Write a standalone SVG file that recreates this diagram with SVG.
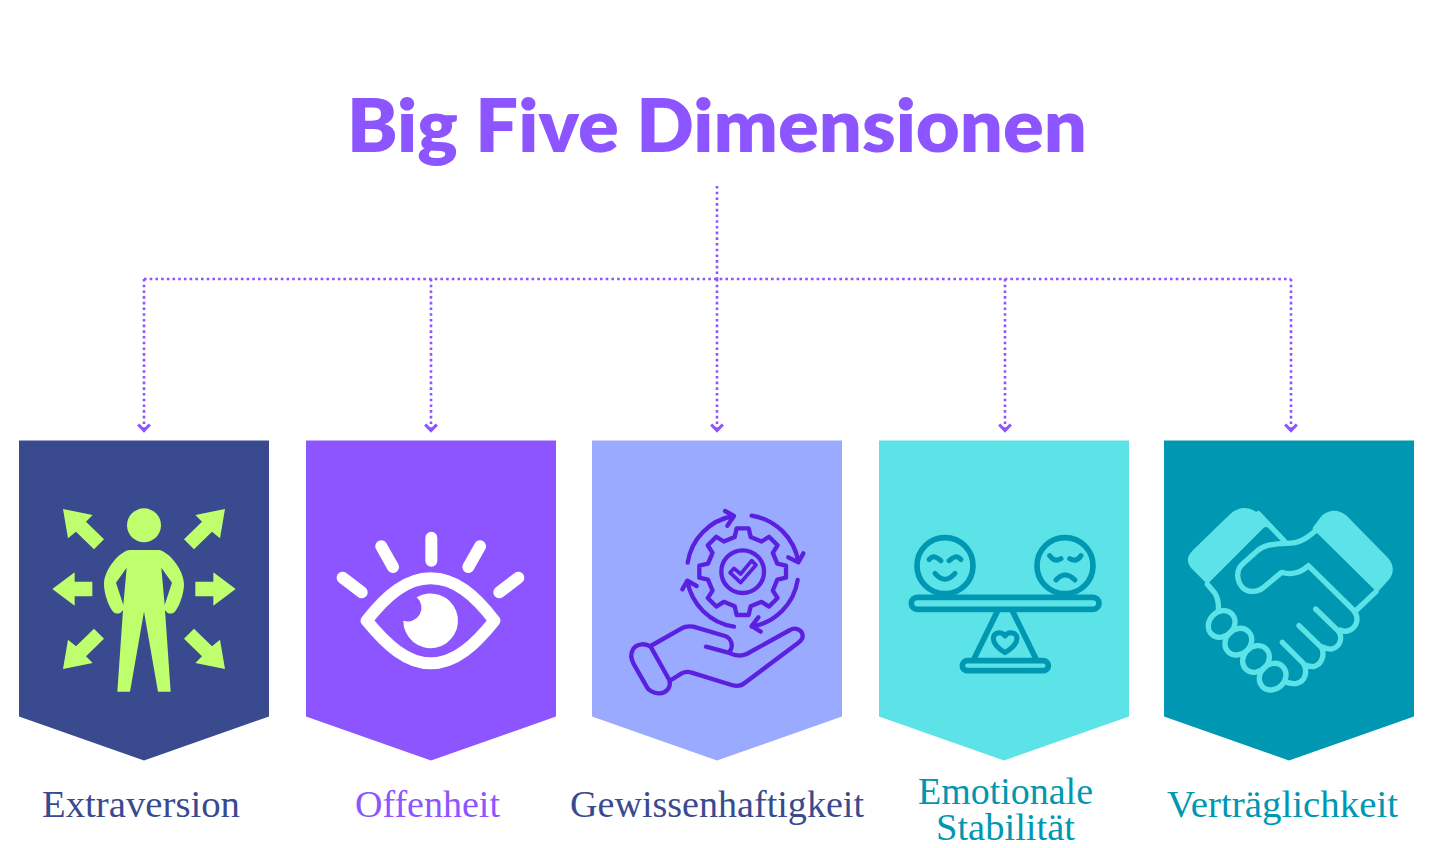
<svg xmlns="http://www.w3.org/2000/svg" width="1440" height="848" viewBox="0 0 1440 848">
<style>
.lbl{font-family:"Liberation Serif","DejaVu Serif",serif;font-size:38px}
.ttl{font-family:"Lato","Noto Sans",sans-serif;font-size:74px;font-weight:800;fill:#8c55ff}
.conn{fill:none;stroke:#8c55ff;stroke-width:2.6;stroke-dasharray:2.6 3.1}
.ln{fill:none;stroke-linecap:round;stroke-linejoin:round}
</style>
<defs>
<marker id="chev" markerUnits="userSpaceOnUse" markerWidth="16" markerHeight="16" viewBox="0 0 16 16" refX="8" refY="8" orient="auto" overflow="visible">
<path d="M2.5 2.2L8.5 8L2.5 13.8" fill="none" stroke="#8c55ff" stroke-width="3.2"/>
</marker>
<path id="shield" d="M0 0H250V276L125 320L0 276Z"/>
</defs>
<rect width="1440" height="848" fill="#fff"/>
<text class="ttl" x="717" y="152" text-anchor="middle" textLength="740" lengthAdjust="spacingAndGlyphs">Big Five Dimensionen</text>
<g id="connectors">
<path class="conn" d="M717 186V279"/>
<path class="conn" d="M144 279H1291"/>
<path class="conn" d="M144 279V430" marker-end="url(#chev)"/>
<path class="conn" d="M431 279V430" marker-end="url(#chev)"/>
<path class="conn" d="M717 279V430" marker-end="url(#chev)"/>
<path class="conn" d="M1005 279V430" marker-end="url(#chev)"/>
<path class="conn" d="M1291 279V430" marker-end="url(#chev)"/>
</g>
<g id="node-extraversion">
<use href="#shield" x="19" y="440.5" fill="#3a4a8f"/>
<g transform="translate(0 430) scale(.33333)" fill="#bfff6e">
<circle cx="432" cy="286" r="51"/>
<path fill-rule="evenodd" d="M390 360H475C505 362 552 420 552 462C552 492 537 532 524 546C514 554 502 552 495 540L512 785H474L432 545L390 785H352L369 540C362 552 350 554 340 546C327 532 312 492 312 462C312 420 359 362 390 360ZM380 413L348 458L370 525ZM484 413L516 458L494 525Z"/>
<path d="M586 455H640V427L707 477L640 527V499H586Z"/>
<path d="M277 455H224V427L157 477L224 527V499H277Z"/>
<path d="M586 255L675 237L660 325L636 305L582 358L552 328L606 275Z"/>
<path d="M278 255L189 237L204 325L228 305L282 358L312 328L258 275Z"/>
<path d="M586 699L675 717L660 629L636 649L582 596L552 626L606 679Z"/>
<path d="M278 699L189 717L204 629L228 649L282 596L312 626L258 679Z"/>
</g>
<text class="lbl" x="42" y="817" textLength="198" lengthAdjust="spacingAndGlyphs" fill="#3a4a8f">Extraversion</text>
</g>
<g id="node-offenheit">
<use href="#shield" x="306" y="440.5" fill="#8c55ff"/>
<g transform="translate(300 500) scale(.33333)">
<g class="ln" stroke="#fff" stroke-width="36">
<path d="M394 113V182M244 139L279 201M540 139L505 201M128 233L185 277M655 233L598 277"/>
<path d="M200 362C260 285 320 235 392 235C465 235 525 285 583 362C525 435 465 490 392 490C320 490 260 435 200 362Z"/>
</g>
<path fill="#fff" d="M350 292A82 82 0 1 1 310 362A41 41 0 0 0 350 292Z"/>
</g>
<text class="lbl" x="355" y="817" textLength="145" lengthAdjust="spacingAndGlyphs" fill="#8c55ff">Offenheit</text>
</g>
<g id="node-gewissenhaftigkeit">
<use href="#shield" x="592" y="440.5" fill="#9aabff"/>
<g transform="translate(610 500) scale(.33333)" class="ln" stroke="#5b1fe0" stroke-width="13">
<path d="M122 440L178 540C185 565 165 582 145 580C130 580 115 570 110 560L70 490C55 460 70 435 95 433C105 432 115 435 122 440Z"/>
<path d="M122 438L215 385C228 377 238 378 250 380L345 408C365 415 372 440 358 455"/>
<path d="M288 440L355 458C375 468 392 470 410 462L540 390C555 380 578 390 578 408C578 420 570 425 560 432L405 548C392 560 380 560 365 555L245 518C232 513 225 515 215 520L183 540"/>
<path d="M233 188A168 168 0 0 1 370 48M345 33L372 48L352 77"/>
<path d="M425 47A168 168 0 0 1 565 185M535 172L565 187L580 160"/>
<path d="M563 240A168 168 0 0 1 425 380M445 352L425 378L452 395"/>
<path d="M372 380A168 168 0 0 1 232 242M217 268L232 242L260 258"/>
<g transform="translate(398 215)">
<path d="M-24 -104L-18 -130H18L24 -104L56.6 -90.5L79.2 -104.7L104.7 -79.2L90.5 -56.6L104 -24L130 -18V18L104 24L90.5 56.6L104.7 79.2L79.2 104.7L56.6 90.5L24 104L18 130H-18L-24 104L-56.6 90.5L-79.2 104.7L-104.7 79.2L-90.5 56.6L-104 24L-130 18V-18L-104 -24L-90.5 -56.6L-104.7 -79.2L-79.2 -104.7L-56.6 -90.5Z"/>
<circle r="64"/>
</g>
<path stroke-width="11" d="M360 218L372 205L392 222L425 182L438 195L392 248Z"/>
</g>
<text class="lbl" x="570" y="817" textLength="294" lengthAdjust="spacingAndGlyphs" fill="#3a4a8f">Gewissenhaftigkeit</text>
</g>
<g id="node-stabilitaet">
<use href="#shield" x="879" y="440.5" fill="#5ce3e8"/>
<g transform="translate(895 520) scale(.33333)" class="ln" stroke="#0097b2" stroke-width="17">
<circle cx="150" cy="137" r="84"/>
<circle cx="510" cy="137" r="84"/>
<rect x="49" y="232" width="563" height="36" rx="18"/>
<path d="M308 272L238 415M352 272L422 415"/>
<rect x="202" y="422" width="258" height="30" rx="15"/>
<path stroke-width="15" d="M330 398C300 380 295 365 295 355C295 338 318 332 330 348C342 332 366 338 366 355C366 365 360 380 330 398Z"/>
<path stroke-width="15" d="M102 119C115 103 125 112 138 122M162 122C175 112 185 103 198 119M120 160Q150 195 180 160"/>
<path stroke-width="15" d="M464 107Q478 128 498 116M524 116Q545 128 558 107M483 180Q510 150 540 180"/>
</g>
<text class="lbl" x="918" y="804" textLength="175" lengthAdjust="spacingAndGlyphs" fill="#0097b2">Emotionale</text>
<text class="lbl" x="936" y="840" textLength="139" lengthAdjust="spacingAndGlyphs" fill="#0097b2">Stabilität</text>
</g>
<g id="node-vertraeglichkeit">
<use href="#shield" x="1164" y="440.5" fill="#0097b2"/>
<g transform="translate(1175 495) scale(.33333)" class="ln" stroke="#5ce3e8" stroke-width="16">
<path fill="#5ce3e8" stroke="none" d="M97 268L55 226C33 204 33 186 55 164L165 58C190 33 225 33 250 56L288 96L268 97Z"/>
<path fill="#5ce3e8" stroke="none" d="M420 108L412 100L440 62C465 42 490 42 515 62L640 190C658 212 658 236 640 256L605 295L597 283Z"/>
<path d="M603 290L545 345M250 56L328 138M97 268L120 295Q132 315 130 345"/>
<path d="M425 104C390 135 370 145 335 145C300 145 270 150 250 165L205 205C180 225 185 260 205 280C225 295 250 290 265 278L320 232C345 240 375 235 400 212L535 345C555 370 545 395 525 405C515 410 505 410 495 405"/>
<path d="M422 342L490 408C505 430 495 455 470 462C460 463 450 460 440 455M372 392L440 458C450 480 440 510 415 515C405 515 395 512 390 510M322 442L385 505C400 530 390 560 365 565C355 567 345 565 335 562"/>
<ellipse cx="140" cy="387" rx="43" ry="37" transform="rotate(-45 140 387)"/>
<ellipse cx="190" cy="440" rx="43" ry="37" transform="rotate(-45 190 440)"/>
<ellipse cx="243" cy="492" rx="43" ry="37" transform="rotate(-45 243 492)"/>
<ellipse cx="293" cy="545" rx="43" ry="37" transform="rotate(-45 293 545)"/>
</g>
<text class="lbl" x="1167" y="817" textLength="231" lengthAdjust="spacingAndGlyphs" fill="#0097b2">Verträglichkeit</text>
</g>
</svg>
